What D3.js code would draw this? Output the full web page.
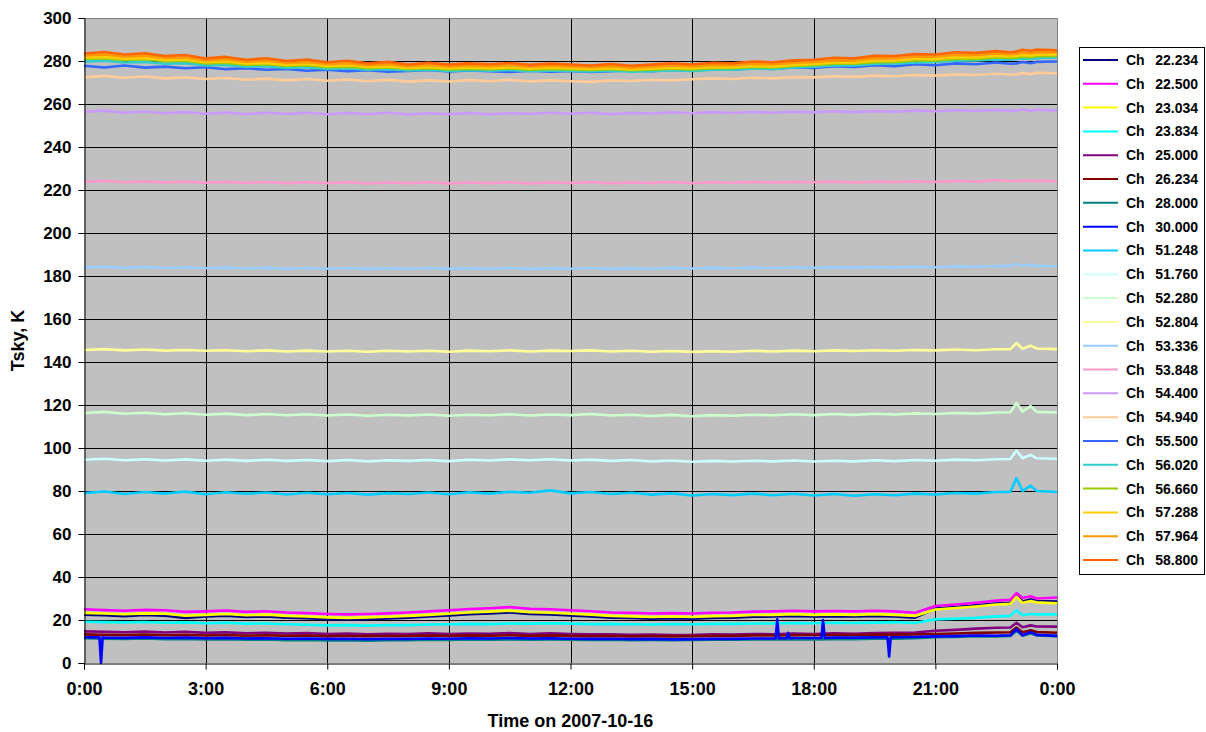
<!DOCTYPE html>
<html>
<head>
<meta charset="utf-8">
<script src="https://cdn.jsdelivr.net/npm/d3@7"></script>
<style>
  html, body { margin: 0; padding: 0; background: #ffffff; }
  svg { display: block; font-family: "Liberation Sans", Arial, sans-serif; }
</style>
</head>
<body>
<svg id="chart" width="1206" height="732"></svg>
<script>
// ---------------- DATA ----------------
const hours = [0,0.5,1,1.5,2,2.5,3,3.5,4,4.5,5,5.5,6,6.5,7,7.5,8,8.5,9,9.5,10,10.5,11,11.5,12,12.5,13,13.5,14,14.5,15,15.5,16,16.5,17,17.5,18,18.5,19,19.5,20,20.5,21,21.5,22,22.5,22.85,23,23.15,23.35,23.5,24];

const channels = ["22.234","22.500","23.034","23.834","25.000","26.234","28.000","30.000","51.248","51.760","52.280","52.804","53.336","53.848","54.400","54.940","55.500","56.020","56.660","57.288","57.964","58.800"];

const xTickValues = [0,3,6,9,12,15,18,21,24];
const xTickLabels = ["0:00","3:00","6:00","9:00","12:00","15:00","18:00","21:00","0:00"];
const yTickValues = [0,20,40,60,80,100,120,140,160,180,200,220,240,260,280,300];

const ch22_234 = [22.5,22.2,21.8,22.3,22.0,21.0,21.6,22.0,21.4,21.7,21.1,20.8,20.4,20.2,20.4,20.7,21.1,21.6,22.1,22.7,23.1,23.5,22.8,22.6,22.1,21.7,21.1,20.9,20.6,20.8,20.6,21.0,21.1,21.5,21.6,21.9,21.6,21.8,21.6,21.9,21.6,21.1,25.3,26.0,26.8,27.7,28.0,31.3,28.6,29.5,28.8,28.6];
const ch22_500 = [25.0,24.6,24.3,24.7,24.5,23.8,24.0,24.4,23.8,24.1,23.5,23.2,22.8,22.6,22.8,23.1,23.5,24.0,24.5,25.1,25.5,26.0,25.2,25.0,24.5,24.1,23.5,23.3,23.0,23.2,23.0,23.4,23.5,23.9,24.0,24.3,24.0,24.2,24.0,24.3,24.0,23.4,26.5,27.2,28.0,29.0,29.4,32.5,30.2,31.0,30.0,30.5];
const ch23_034 = [23.3,23.0,22.7,23.1,22.9,22.0,22.4,22.8,22.2,22.5,21.9,21.6,21.2,21.0,21.2,21.5,21.9,22.4,22.9,23.5,23.9,24.3,23.6,23.4,22.9,22.5,21.9,21.7,21.4,21.6,21.4,21.8,21.9,22.3,22.4,22.7,22.4,22.6,22.4,22.7,22.4,21.9,24.9,25.6,26.3,27.2,27.5,30.8,28.0,28.8,28.2,27.8];
const ch23_834 = [19.2,19.0,18.9,19.1,18.7,18.9,18.5,18.7,18.3,18.4,18.0,17.8,17.5,17.6,17.4,17.7,17.6,17.9,18.0,18.2,18.1,18.4,18.3,18.5,18.3,18.1,18.2,18.0,17.9,18.1,18.0,18.2,18.2,18.4,18.4,18.6,18.5,18.7,18.6,18.8,19.0,18.6,20.3,20.6,21.0,21.7,21.9,24.5,22.2,22.8,22.6,22.6];
const ch25_000 = [14.7,14.5,14.3,14.6,14.2,14.5,14.0,14.3,13.8,14.1,13.7,13.9,13.5,13.7,13.4,13.6,13.5,13.8,13.5,13.7,13.6,13.9,13.5,13.8,13.5,13.3,13.4,13.1,13.2,13.0,13.0,13.3,13.2,13.5,13.4,13.7,13.5,13.8,13.6,13.9,14.0,14.2,15.0,15.4,16.0,16.4,16.5,18.7,16.6,17.5,17.0,16.9];
const ch26_234 = [13.3,13.1,13.0,13.2,12.9,13.1,12.8,13.0,12.7,12.9,12.6,12.8,12.5,12.7,12.5,12.7,12.6,12.8,12.6,12.8,12.7,12.9,12.6,12.8,12.6,12.5,12.6,12.4,12.5,12.4,12.5,12.6,12.6,12.8,12.8,12.9,13.0,13.1,13.0,13.2,13.2,13.3,13.5,13.7,14.0,14.2,14.3,16.5,14.3,15.2,14.4,14.1];
const ch28_000 = [11.5,11.3,11.2,11.4,11.1,11.2,10.9,11.1,10.8,10.9,10.6,10.7,10.5,10.6,10.4,10.6,10.6,10.8,10.7,10.9,10.8,11.0,10.8,10.9,10.8,10.7,10.8,10.6,10.7,10.6,10.7,10.8,10.8,10.9,10.9,11.0,11.0,11.1,11.1,11.3,11.3,11.5,12.0,12.1,12.5,12.4,12.6,15.0,12.7,13.8,12.8,12.5];
// Ch 30.000 has its own sample times because of its short spikes
const ch30Hours = [0,0.38,0.42,0.46,0.5,1,1.5,2,2.5,3,3.5,4,4.5,5,5.5,6,6.5,7,7.5,8,8.5,9,9.5,10,10.5,11,11.5,12,12.5,13,13.5,14,14.5,15,15.5,16,16.5,17,17.06,17.1,17.14,17.33,17.37,17.41,17.5,18,18.19,18.23,18.27,18.5,19,19.5,19.82,19.86,19.9,20,20.5,21,21.5,22,22.5,22.85,23,23.15,23.35,23.5,24];
const ch30_000 = [12.0,11.9,0.0,11.9,11.8,11.7,11.9,11.6,11.8,11.5,11.7,11.4,11.5,11.3,11.4,11.2,11.3,11.1,11.3,11.2,11.4,11.3,11.5,11.4,11.6,11.4,11.5,11.3,11.2,11.3,11.1,11.2,11.0,11.1,11.2,11.2,11.4,11.4,11.4,20.3,11.5,11.5,14.0,11.5,11.6,11.6,11.7,20.0,11.7,11.8,11.8,11.9,11.9,3.0,12.0,12.0,12.1,12.4,12.5,12.8,12.7,12.9,15.7,12.9,14.3,13.1,12.6];
const ch51_248 = [79.0,79.8,78.6,79.5,78.8,79.7,78.5,79.4,78.7,79.3,78.4,79.2,78.5,79.1,78.3,79.0,78.6,79.3,78.5,79.4,78.8,79.6,79.2,80.3,78.9,79.5,78.6,79.2,78.3,78.9,77.9,78.6,78.1,78.8,78.0,78.7,77.9,78.6,77.8,78.5,78.0,78.8,78.4,79.1,78.8,79.5,79.6,86.0,80.0,82.5,80.0,79.5];
const ch51_760 = [94.5,95.0,94.3,94.8,94.2,94.7,94.1,94.6,94.0,94.5,94.0,94.4,93.9,94.4,93.8,94.3,94.0,94.4,93.9,94.5,94.2,94.7,94.3,94.8,94.2,94.6,94.0,94.4,93.8,94.2,93.6,94.0,93.7,94.1,93.8,94.2,93.7,94.1,93.8,94.3,93.9,94.4,94.1,94.6,94.3,94.8,94.9,98.8,95.2,96.8,95.2,95.0];
const ch52_280 = [116.3,116.8,115.9,116.4,115.7,116.2,115.5,116.0,115.3,115.8,115.2,115.7,115.1,115.6,115.0,115.5,115.1,115.6,115.0,115.5,115.2,115.7,115.1,115.6,115.3,115.8,115.1,115.5,114.9,115.4,114.8,115.3,115.0,115.5,115.2,115.7,115.3,115.8,115.4,115.9,115.6,116.1,115.8,116.3,116.0,116.5,116.6,121.0,117.0,119.5,116.8,116.5];
const ch52_804 = [145.6,146.0,145.4,145.8,145.3,145.6,145.2,145.5,145.0,145.4,144.9,145.3,144.9,145.2,144.8,145.2,144.9,145.2,144.8,145.3,145.0,145.4,144.9,145.3,145.1,145.4,144.9,145.2,144.8,145.1,144.7,145.0,144.8,145.2,144.9,145.3,145.0,145.4,145.1,145.5,145.2,145.6,145.4,145.8,145.5,145.9,146.0,148.8,146.2,147.6,146.3,146.0];
const ch53_336 = [184.0,184.3,183.8,184.2,183.7,184.0,183.6,183.9,183.5,183.8,183.4,183.7,183.4,183.7,183.3,183.6,183.4,183.7,183.3,183.6,183.4,183.7,183.3,183.6,183.4,183.7,183.3,183.6,183.4,183.8,183.5,183.8,183.6,183.9,183.7,184.0,183.8,184.1,183.9,184.2,184.0,184.3,184.1,184.4,184.3,184.6,184.7,185.6,184.8,185.2,184.7,184.5];
const ch53_848 = [223.8,224.2,223.6,224.0,223.5,223.9,223.4,223.8,223.3,223.7,223.2,223.6,223.2,223.6,223.1,223.5,223.2,223.6,223.1,223.5,223.2,223.6,223.1,223.5,223.3,223.6,223.2,223.5,223.3,223.7,223.2,223.6,223.4,223.8,223.5,223.8,223.6,223.9,223.5,223.9,223.7,224.0,223.8,224.2,223.9,224.5,224.2,224.1,224.4,224.2,224.3,224.0];
const ch54_400 = [256.4,256.9,255.9,256.5,255.7,256.2,255.5,256.0,255.3,255.9,255.4,255.9,255.2,255.8,255.3,255.9,255.1,255.7,255.3,255.8,255.2,255.7,255.4,255.9,255.5,255.9,255.3,255.8,255.6,256.1,255.7,256.2,255.8,256.3,255.9,256.4,256.1,256.6,256.2,256.7,256.4,256.9,256.6,257.1,256.8,257.2,256.8,256.9,257.4,256.8,257.3,257.0];
const ch54_940 = [272.4,273.1,272.2,272.8,271.9,272.4,271.6,272.1,271.3,271.8,271.0,271.6,270.8,271.4,270.6,271.2,270.4,271.0,270.5,271.1,270.6,271.2,270.5,271.0,270.6,270.3,270.9,270.7,271.3,271.0,271.5,271.9,271.6,272.2,271.9,272.5,272.4,272.9,272.6,273.2,272.9,273.5,273.2,273.8,273.5,274.1,273.7,273.8,274.4,273.9,274.5,274.3];
const ch55_500 = [277.8,277.0,277.9,276.9,277.4,276.6,277.1,276.2,276.6,275.9,276.3,275.5,275.9,275.3,275.7,275.0,275.4,275.8,275.1,275.6,275.3,274.9,275.5,275.0,275.4,274.9,275.3,275.7,275.2,275.9,275.5,276.3,275.9,276.7,276.3,277.1,276.8,277.6,277.2,278.0,277.6,278.5,278.0,278.9,278.5,279.3,278.7,278.9,279.5,279.0,279.6,279.8];
const ch56_020 = [279.7,280.1,279.3,279.6,278.7,279.0,277.9,278.2,277.3,277.6,276.8,277.1,276.3,276.6,275.9,276.2,275.6,275.9,275.4,275.7,275.5,275.8,275.3,275.6,275.4,275.1,275.5,275.0,275.3,275.7,275.4,276.0,275.9,276.5,276.3,277.0,277.3,277.9,277.9,278.6,278.7,279.3,279.5,280.1,280.2,280.7,280.6,280.9,281.2,281.0,281.3,281.6];
const ch56_660 = [281.0,281.3,280.5,280.8,279.9,280.1,278.9,279.2,278.2,278.5,277.7,278.0,277.1,277.4,276.7,277.0,276.3,276.6,276.1,276.4,276.2,276.5,276.0,276.3,276.1,275.8,276.2,275.7,276.0,276.4,276.1,276.7,276.6,277.2,277.0,277.7,278.0,278.7,278.7,279.4,279.5,280.2,280.3,281.0,281.0,281.6,281.4,281.7,282.0,281.8,282.2,282.3];
const ch57_288 = [281.6,281.9,281.1,281.4,280.5,280.7,279.4,279.8,278.8,279.1,278.2,278.6,277.7,278.0,277.2,277.5,276.8,277.2,276.6,277.0,276.7,277.0,276.5,276.9,276.6,276.3,276.7,276.1,276.5,276.9,276.6,277.2,277.1,277.7,277.5,278.2,278.6,279.3,279.3,280.1,280.2,280.9,281.0,281.7,281.7,282.3,282.1,282.4,282.8,282.5,282.9,283.0];
const ch57_964 = [282.6,283.1,282.0,282.5,281.4,281.7,280.3,280.8,279.7,280.2,279.1,279.6,278.6,279.0,278.1,278.5,277.6,278.2,277.5,277.9,277.6,278.0,277.3,277.8,277.5,277.1,277.6,276.9,277.4,277.9,277.5,278.2,278.0,278.7,278.5,279.2,279.6,280.4,280.3,281.3,281.2,282.1,282.0,282.9,282.8,283.5,283.2,283.4,284.0,283.6,284.1,284.0];
const ch58_800 = [283.5,284.2,283.0,283.6,282.3,282.8,281.2,281.9,280.6,281.3,280.0,280.7,279.4,280.1,278.9,279.6,278.4,279.2,278.3,278.9,278.5,279.1,278.2,278.8,278.4,277.9,278.6,277.8,278.3,278.9,278.4,279.2,278.9,279.8,279.4,280.3,280.6,281.5,281.3,282.4,282.3,283.2,283.0,284.1,283.8,284.6,284.1,284.4,285.2,284.7,285.3,285.0];

// ---------------- STYLE ----------------
const colors = ["#000080","#FF00FF","#FFFF00","#00FFFF","#800080","#800000","#008080","#0000FF",
                "#00CCFF","#CCFFFF","#CCFFCC","#FFFF99","#99CCFF","#FF99CC","#CC99FF","#FFCC99",
                "#3366FF","#33CCCC","#99CC00","#FFCC00","#FF9900","#FF6600"];

const seriesValues = [ch22_234,ch22_500,ch23_034,ch23_834,ch25_000,ch26_234,ch28_000,ch30_000,
                      ch51_248,ch51_760,ch52_280,ch52_804,ch53_336,ch53_848,ch54_400,ch54_940,
                      ch55_500,ch56_020,ch56_660,ch57_288,ch57_964,ch58_800];
const seriesHours = channels.map(c => c === "30.000" ? ch30Hours : hours);

// ---------------- CHART ----------------
const svg = d3.select("#chart");
const plotL = 84, plotR = 1057, plotT = 18, plotB = 663;

const x = d3.scaleLinear().domain([0, 24]).range([plotL, plotR]);
const y = d3.scaleLinear().domain([0, 300]).range([plotB, plotT]);

// plot background
svg.append("rect").attr("x", plotL).attr("y", plotT)
  .attr("width", plotR - plotL).attr("height", plotB - plotT)
  .attr("fill", "#C0C0C0");

// gridlines
svg.append("g").selectAll("line").data(yTickValues.filter(v => v > 0 && v < 300)).join("line")
  .attr("x1", plotL).attr("x2", plotR)
  .attr("y1", d => Math.round(y(d)) + 0.5).attr("y2", d => Math.round(y(d)) + 0.5)
  .attr("stroke", "#000").attr("stroke-width", 1);
svg.append("g").selectAll("line").data(xTickValues.filter(v => v > 0 && v < 24)).join("line")
  .attr("x1", d => Math.round(x(d)) + 0.5).attr("x2", d => Math.round(x(d)) + 0.5)
  .attr("y1", plotT).attr("y2", plotB)
  .attr("stroke", "#000").attr("stroke-width", 1);

// plot border (top/right)
svg.append("path")
  .attr("d", `M${plotL},${plotT + 0.5}H${plotR + 0.5}V${plotB}`)
  .attr("fill", "none").attr("stroke", "#808080").attr("stroke-width", 1);

// series
const lineGen = d3.line().x(d => x(d[0])).y(d => y(d[1]));
const gSeries = svg.append("g");
seriesValues.forEach((vals, i) => {
  const pts = seriesHours[i].map((h, j) => [h, vals[j]]);
  gSeries.append("path")
    .datum(pts)
    .attr("d", lineGen)
    .attr("fill", "none")
    .attr("stroke", colors[i])
    .attr("stroke-width", 2.6)
    .attr("stroke-linejoin", "round");
});

// axes
const yAxis = d3.axisLeft(y).tickValues(yTickValues).tickSize(6).tickPadding(7).tickFormat(d3.format("d"));
const gy = svg.append("g").attr("transform", `translate(${plotL + 0.5},0)`).call(yAxis);
const xAxis = d3.axisBottom(x).tickValues(xTickValues).tickSize(6).tickPadding(13)
  .tickFormat((d, i) => xTickLabels[i]);
const gx = svg.append("g").attr("transform", `translate(0,${plotB + 0.5})`).call(xAxis);

[gx, gy].forEach(g => {
  g.select(".domain").attr("stroke", "#000");
  g.selectAll(".tick line").attr("stroke", "#000");
  g.selectAll("text").attr("fill", "#000")
    .style("font-family", "'Liberation Sans', Arial, sans-serif")
    .style("font-weight", "bold");
});
gy.selectAll("text").style("font-size", "17px");
gx.selectAll("text").style("font-size", "18px");

// axis titles
svg.append("text")
  .attr("transform", `translate(24,${(plotT + plotB) / 2}) rotate(-90)`)
  .attr("text-anchor", "middle")
  .style("font-size", "18px").style("font-weight", "bold")
  .text("Tsky, K");
svg.append("text")
  .attr("x", (plotL + plotR) / 2).attr("y", 727)
  .attr("text-anchor", "middle")
  .style("font-size", "18px").style("font-weight", "bold")
  .text("Time on 2007-10-16");

// legend
const legX = 1079, legY = 47, legW = 125, legH = 527;
svg.append("rect").attr("x", legX + 0.5).attr("y", legY + 0.5)
  .attr("width", legW).attr("height", legH)
  .attr("fill", "#fff").attr("stroke", "#000").attr("stroke-width", 1);
const legStep = (560 - 60) / (channels.length - 1);
const leg = svg.append("g").selectAll("g").data(channels).join("g")
  .attr("transform", (d, i) => `translate(0,${60 + i * legStep})`);
leg.append("line").attr("x1", 1083).attr("x2", 1118).attr("y1", 0).attr("y2", 0)
  .attr("stroke", (d, i) => colors[i]).attr("stroke-width", 2);
leg.append("text").attr("x", 1126).attr("y", 5)
  .style("font-size", "14px").style("font-weight", "bold")
  .text("Ch");
leg.append("text").attr("x", 1198).attr("y", 5).attr("text-anchor", "end")
  .style("font-size", "14px").style("font-weight", "bold")
  .text(d => d);
</script>
</body>
</html>
